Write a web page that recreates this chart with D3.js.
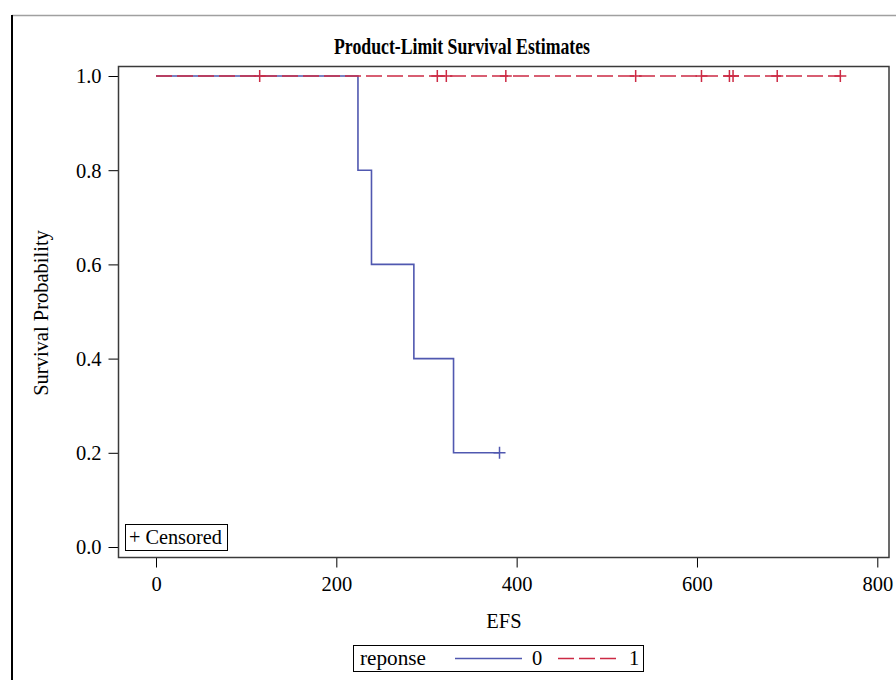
<!DOCTYPE html>
<html>
<head>
<meta charset="utf-8">
<script src="https://cdn.jsdelivr.net/npm/d3@7"></script>
<style>
  body { margin: 0; background: #fff; }
  svg text { font-family: "Liberation Serif", "DejaVu Serif", serif; fill: #000; }
</style>
</head>
<body>
<div id="chart"></div>
<script>
// group 0: event times (survival steps) and censor time
const stepTimes0 = [0, 224, 239, 286, 330];
const stepSurv0 = [1.0, 0.8, 0.6, 0.4, 0.2];
const endTime0 = 381;
const censorTimes0 = [381];
const censorSurv0 = [0.2];

// group 1: no events, all censored
const endTime1 = 759;
const censorTimes1 = [115, 312, 322, 388, 532, 605, 636, 640, 689, 759];
const censorSurv1 = [1, 1, 1, 1, 1, 1, 1, 1, 1, 1];

const xTicks = [0, 200, 400, 600, 800];
const yTicks = [0.0, 0.2, 0.4, 0.6, 0.8, 1.0];
const groups = ['0', '1'];

const colorMap = { '0': '#5058B0', '1': '#CC2A44' };

const width = 896, height = 680;
const frame = { left: 118.5, top: 66.5, right: 889, bottom: 557.5 };
const fontSize = '20.5px';

const svg = d3.select('#chart').append('svg')
  .attr('width', width)
  .attr('height', height);

// outer graph border
svg.append('line').attr('x1', 12).attr('x2', width).attr('y1', 15.5).attr('y2', 15.5)
  .attr('stroke', '#a0a0a0').attr('stroke-width', 1.5);
svg.append('line').attr('x1', 12).attr('x2', 12).attr('y1', 15).attr('y2', height)
  .attr('stroke', '#000').attr('stroke-width', 2);

const x = d3.scaleLinear().domain([0, 800]).range([156, 877.3]);
const y = d3.scaleLinear().domain([0, 1]).range([547, 76]);

// title
svg.append('text')
  .attr('x', 462).attr('y', 54)
  .attr('text-anchor', 'middle')
  .attr('textLength', 256)
  .attr('lengthAdjust', 'spacingAndGlyphs')
  .style('font-weight', 'bold')
  .style('font-size', '24px')
  .text('Product-Limit Survival Estimates');

// axes
svg.append('g')
  .attr('transform', `translate(0,${frame.bottom})`)
  .call(d3.axisBottom(x).tickValues(xTicks).tickFormat(d3.format('d')).tickSize(10).tickSizeOuter(0))
  .call(g => g.select('.domain').remove())
  .call(g => g.selectAll('line').attr('stroke', '#000'))
  .call(g => g.selectAll('text').style('font-size', fontSize).attr('y', 0).attr('dy', 0)
    .attr('transform', 'translate(0,33)'));

svg.append('g')
  .attr('transform', `translate(${frame.left},0)`)
  .call(d3.axisLeft(y).tickValues(yTicks).tickFormat(d3.format('.1f')).tickSize(10).tickSizeOuter(0))
  .call(g => g.select('.domain').remove())
  .call(g => g.selectAll('text').style('font-size', fontSize).attr('x', -17).attr('dy', '0.34em'))
  .call(g => g.selectAll('line').attr('stroke', '#000'));

// axis labels
svg.append('text')
  .attr('x', 504).attr('y', 628)
  .attr('text-anchor', 'middle')
  .style('font-size', fontSize)
  .text('EFS');

svg.append('text')
  .attr('transform', 'translate(48,313) rotate(-90)')
  .attr('text-anchor', 'middle')
  .style('font-size', fontSize)
  .text('Survival Probability');

// survival curves
const line = d3.line().curve(d3.curveStepAfter).x(d => x(d[0])).y(d => y(d[1]));

const pts0 = stepTimes0.map((t, i) => [t, stepSurv0[i]]).concat([[endTime0, stepSurv0[stepSurv0.length - 1]]]);
const pts1 = [[0, 1], [endTime1, 1]];

const plot = svg.append('g');

plot.append('path')
  .attr('d', line(pts0))
  .attr('fill', 'none')
  .attr('stroke', colorMap['0'])
  .attr('stroke-width', 1.6);

plot.append('path')
  .attr('d', line(pts1))
  .attr('fill', 'none')
  .attr('stroke', colorMap['1'])
  .attr('stroke-width', 1.6)
  .attr('stroke-dasharray', '16,5');

// censor marks
function drawCensor(times, surv, color) {
  plot.selectAll(null)
    .data(times.map((t, i) => [t, surv[i]]))
    .enter().append('path')
    .attr('d', d => {
      const cx = x(d[0]), cy = y(d[1]);
      return `M${cx - 6},${cy}H${cx + 6}M${cx},${cy - 6}V${cy + 6}`;
    })
    .attr('stroke', color)
    .attr('stroke-width', 1.5)
    .attr('fill', 'none');
}
drawCensor(censorTimes0, censorSurv0, colorMap['0']);
drawCensor(censorTimes1, censorSurv1, colorMap['1']);

// plot frame
svg.append('rect')
  .attr('x', frame.left).attr('y', frame.top)
  .attr('width', frame.right - frame.left)
  .attr('height', frame.bottom - frame.top)
  .attr('fill', 'none')
  .attr('stroke', '#3a3a3a')
  .attr('stroke-width', 1.5);

// censored inset legend
svg.append('rect')
  .attr('x', 125.5).attr('y', 524.5).attr('width', 102).attr('height', 26)
  .attr('fill', '#fff').attr('stroke', '#000').attr('stroke-width', 1);
svg.append('text')
  .attr('x', 129).attr('y', 544)
  .attr('textLength', 93)
  .attr('lengthAdjust', 'spacingAndGlyphs')
  .style('font-size', fontSize)
  .text('+ Censored');

// group legend
const legend = svg.append('g');
legend.append('rect')
  .attr('x', 353.5).attr('y', 645.5).attr('width', 290).attr('height', 26)
  .attr('fill', '#fff').attr('stroke', '#000').attr('stroke-width', 1);
legend.append('text')
  .attr('x', 360).attr('y', 665)
  .attr('textLength', 66)
  .attr('lengthAdjust', 'spacingAndGlyphs')
  .style('font-size', fontSize)
  .text('reponse');

const legendItems = [
  { key: groups[0], x1: 455, x2: 522, tx: 537 },
  { key: groups[1], x1: 558, x2: 616, tx: 634 }
];
legendItems.forEach(d => {
  legend.append('line')
    .attr('x1', d.x1).attr('x2', d.x2).attr('y1', 658.5).attr('y2', 658.5)
    .attr('stroke', colorMap[d.key])
    .attr('stroke-width', 1.5)
    .attr('stroke-dasharray', d.key === '1' ? '16,5' : null);
  legend.append('text')
    .attr('x', d.tx).attr('y', 665)
    .attr('text-anchor', 'middle')
    .style('font-size', fontSize)
    .text(d.key);
});
</script>
</body>
</html>
